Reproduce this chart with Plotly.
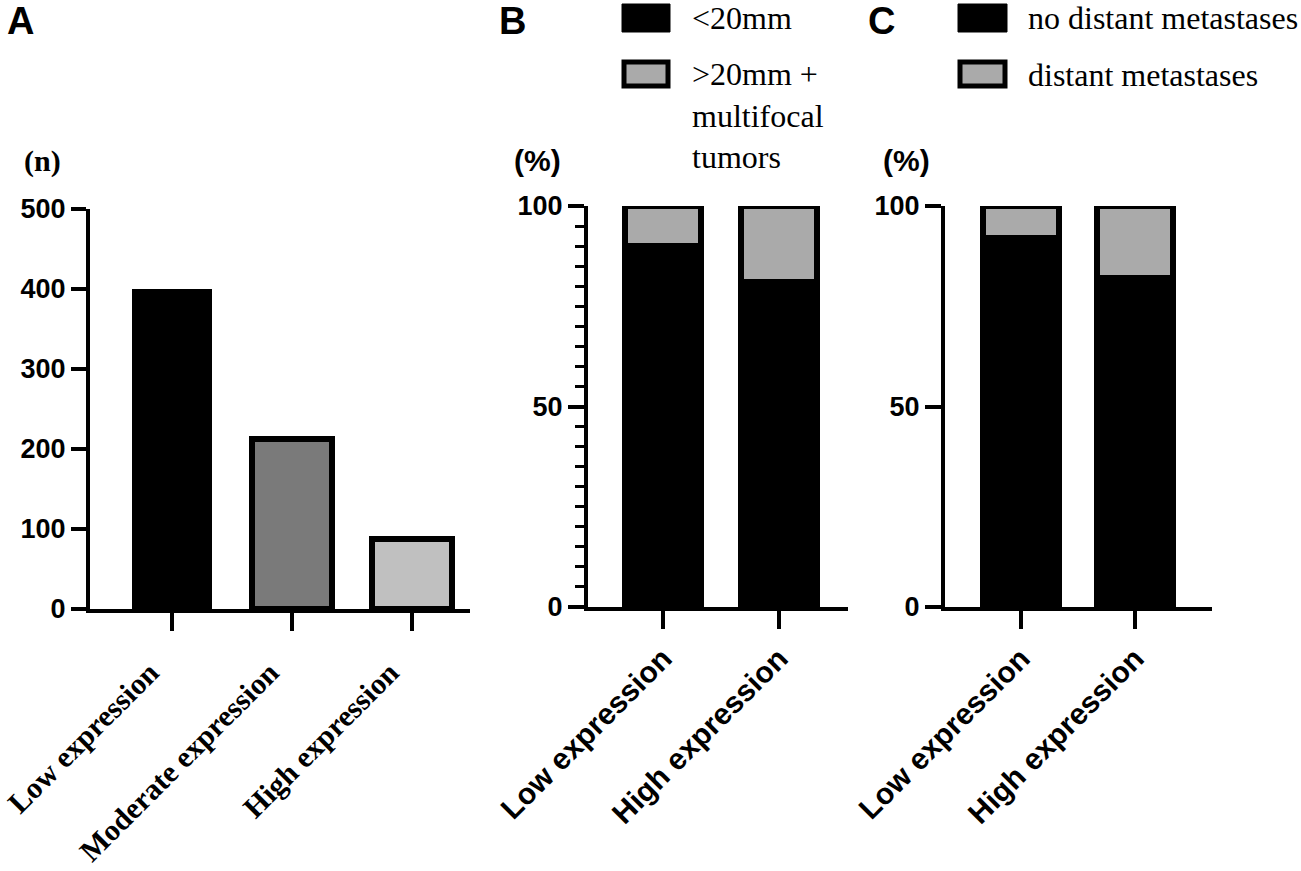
import plotly.graph_objects as go

# panel A: counts per expression level
levels_a = ["Low expression", "Moderate expression", "High expression"]
counts_a = [400, 213, 88]
colors_a = ["#000000", "#7a7a7a", "#c0c0c0"]

# panels B and C: percentages (low / high expression)
levels_bc = ["Low expression", "High expression"]
small_tumor = [90, 81]
large_tumor = [10, 19]
no_meta = [92, 82]
meta = [8, 18]

W, H = 1301, 871
SANS = "Liberation Sans"
SERIF = "Liberation Serif"
GRAY = "#aaaaaa"


def px(x):
    return x / W


def py(y):
    return 1 - y / H


fig = go.Figure()

fig.add_trace(go.Bar(
    x=levels_a, y=counts_a, width=0.66,
    marker=dict(color=colors_a, line=dict(color="black", width=[1, 6, 6])),
    xaxis="x", yaxis="y", showlegend=False))

fig.add_trace(go.Bar(
    x=levels_bc, y=small_tumor, width=0.66,
    marker=dict(color="black", line=dict(color="black", width=6)),
    xaxis="x2", yaxis="y2", showlegend=False))
fig.add_trace(go.Bar(
    x=levels_bc, y=large_tumor, width=0.66,
    marker=dict(color=GRAY, line=dict(color="black", width=6)),
    xaxis="x2", yaxis="y2", showlegend=False))

fig.add_trace(go.Bar(
    x=levels_bc, y=no_meta, width=0.66,
    marker=dict(color="black", line=dict(color="black", width=6)),
    xaxis="x3", yaxis="y3", showlegend=False))
fig.add_trace(go.Bar(
    x=levels_bc, y=meta, width=0.66,
    marker=dict(color=GRAY, line=dict(color="black", width=6)),
    xaxis="x3", yaxis="y3", showlegend=False))

xcommon = dict(showline=True, linewidth=4, linecolor="black", ticks="outside",
               ticklen=18, tickwidth=4, tickcolor="black", tickangle=-45,
               showgrid=False, zeroline=False, automargin=False)
ycommon = dict(showline=True, linewidth=4, linecolor="black", ticks="outside",
               ticklen=15, tickwidth=4, tickcolor="black", showgrid=False,
               zeroline=False, automargin=False,
               tickfont=dict(family=SANS, size=27, color="black", weight="bold"))

fig.update_layout(
    width=W, height=H, barmode="stack",
    margin=dict(l=0, r=0, t=0, b=0, pad=0),
    paper_bgcolor="white", plot_bgcolor="white",
    xaxis=dict(xcommon, domain=[px(90), px(470)], range=[-0.683, 2.483], anchor="y",
               ticklabelshift=-22, ticklabelstandoff=12,
               tickfont=dict(family=SERIF, size=30, color="black", weight="bold")),
    yaxis=dict(ycommon, domain=[py(609), py(209)], range=[0, 500], dtick=100, anchor="x"),
    xaxis2=dict(xcommon, domain=[px(588), px(848)], range=[-0.647, 1.595], anchor="y2",
                tickfont=dict(family=SANS, size=30, color="black", weight="bold")),
    yaxis2=dict(ycommon, domain=[py(607), py(206)], range=[0, 100], tickvals=[0, 50, 100],
                ticklen=16, anchor="x2",
                minor=dict(dtick=5, ticks="outside", ticklen=9, tickwidth=3, tickcolor="black")),
    xaxis3=dict(xcommon, domain=[px(945), px(1212)], range=[-0.667, 1.675], anchor="y3",
                tickfont=dict(family=SANS, size=30, color="black", weight="bold")),
    yaxis3=dict(ycommon, domain=[py(607), py(206)], range=[0, 100], tickvals=[0, 50, 100],
                ticklen=16, anchor="x3"),
)

# panel letters and unit labels
def note(text, x, y, family, size, xanchor="center", yanchor="middle", weight="bold"):
    fig.add_annotation(text=text, x=px(x), y=py(y), xref="paper", yref="paper",
                       showarrow=False, xanchor=xanchor, yanchor=yanchor, align="left",
                       font=dict(family=family, size=size, color="black", weight=weight))

note("A", 20, 21, SANS, 38)
note("B", 512, 21, SANS, 38)
note("C", 881, 21, SANS, 38)
note("(n)", 42, 161, SERIF, 30)
note("(%)", 537, 160, SANS, 30)
note("(%)", 906, 160, SANS, 30)

# custom legends
for x0, x1 in [(622, 670), (958, 1007)]:
    fig.add_shape(type="rect", xref="paper", yref="paper",
                  x0=px(x0), x1=px(x1), y0=py(32), y1=py(4),
                  fillcolor="black", line=dict(color="black", width=1))
    fig.add_shape(type="rect", xref="paper", yref="paper",
                  x0=px(x0 + 2), x1=px(x1 - 2), y0=py(86), y1=py(62),
                  fillcolor=GRAY, line=dict(color="black", width=5))

note("&lt;20mm", 690, 18, SERIF, 32, xanchor="left", weight="normal")
note("&gt;20mm +<br>multifocal<br>tumors", 690, 54, SERIF, 32, xanchor="left",
     yanchor="top", weight="normal")
note("no distant metastases", 1026, 18, SERIF, 32, xanchor="left", weight="normal")
note("distant metastases", 1026, 75, SERIF, 32, xanchor="left", weight="normal")

# drop the default page margin so the figure sits at the window's corner
fig.write_html("out.html", config={"displayModeBar": False},
               post_script="document.body.style.margin='0px';")
